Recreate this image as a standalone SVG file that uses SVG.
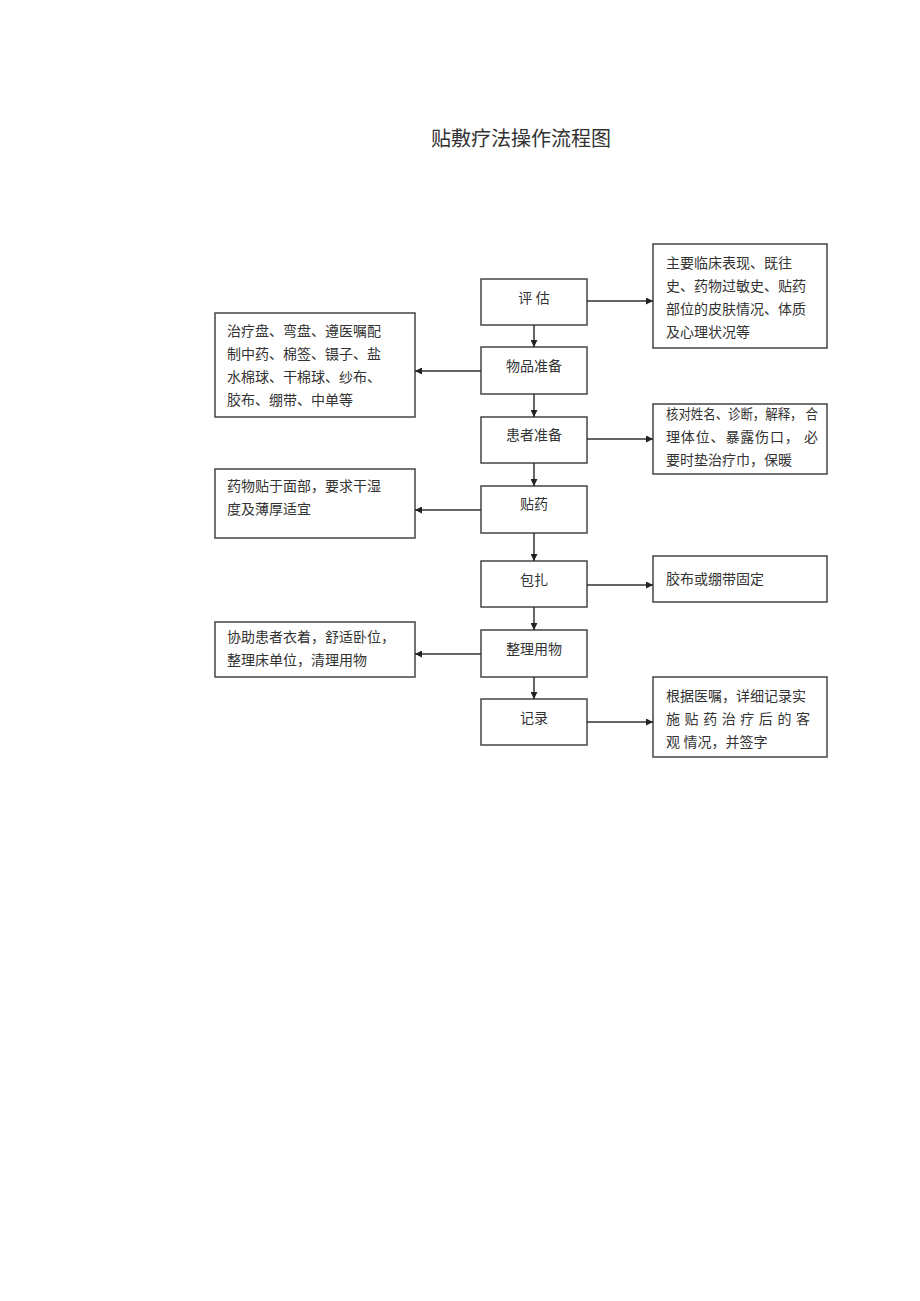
<svg xmlns="http://www.w3.org/2000/svg" width="920" height="1301" viewBox="0 0 920 1301">
<style>
.b{fill:#fff;stroke:#444;stroke-width:1.5}
.t{font-family:"Liberation Serif","Noto Sans CJK SC",serif;font-size:14px;fill:#333}
.c{text-anchor:middle}
.l{stroke:#333;stroke-width:1.5;fill:none;marker-end:url(#a)}
</style>
<defs><marker id="a" viewBox="0 0 10 10" refX="10" refY="5" markerWidth="7" markerHeight="7" orient="auto" markerUnits="userSpaceOnUse"><path d="M0,0L10,5L0,10z" fill="#222"/></marker></defs>
<rect width="920" height="1301" fill="#fff"/>
<text x="521" y="146" class="t c" style="font-size:20px">贴敷疗法操作流程图</text>
<g id="n1"><rect class="b" x="481" y="279" width="106" height="46"/><text class="t c" x="534" y="303">评 估</text></g>
<g id="n2"><rect class="b" x="481" y="347" width="106" height="47"/><text class="t c" x="534" y="371">物品准备</text></g>
<g id="n3"><rect class="b" x="481" y="417" width="106" height="46"/><text class="t c" x="534" y="440">患者准备</text></g>
<g id="n4"><rect class="b" x="481" y="486" width="106" height="47"/><text class="t c" x="534" y="509">贴药</text></g>
<g id="n5"><rect class="b" x="481" y="561" width="106" height="46"/><text class="t c" x="534" y="585">包扎</text></g>
<g id="n6"><rect class="b" x="481" y="630" width="106" height="47"/><text class="t c" x="534" y="654">整理用物</text></g>
<g id="n7"><rect class="b" x="481" y="699" width="106" height="46"/><text class="t c" x="534" y="723">记录</text></g>
<g id="r1"><rect class="b" x="653" y="244" width="174" height="104"/><text class="t" x="666" y="268">主要临床表现、既往</text><text class="t" x="666" y="291">史、药物过敏史、贴药</text><text class="t" x="666" y="314">部位的皮肤情况、体质</text><text class="t" x="666" y="337">及心理状况等</text></g>
<g id="r2"><rect class="b" x="653" y="404" width="174" height="70"/><text class="t" x="666" y="419" textLength="152" lengthAdjust="spacingAndGlyphs">核对姓名、诊断，解释， 合</text><text class="t" x="666" y="442" textLength="152">理体位、暴露伤口， 必</text><text class="t" x="666" y="465">要时垫治疗巾，保暖</text></g>
<g id="r3"><rect class="b" x="653" y="556" width="174" height="46"/><text class="t" x="666" y="584">胶布或绷带固定</text></g>
<g id="r4"><rect class="b" x="653" y="677" width="174" height="80"/><text class="t" x="666" y="701">根据医嘱，详细记录实</text><text class="t" x="666" y="724" textLength="144">施贴药治疗后的客</text><text class="t" x="666" y="747">观 情况，并签字</text></g>
<g id="l1"><rect class="b" x="215" y="313" width="200" height="104"/><text class="t" x="227" y="336">治疗盘、弯盘、遵医嘱配</text><text class="t" x="227" y="359">制中药、棉签、镊子、盐</text><text class="t" x="227" y="382">水棉球、干棉球、纱布、</text><text class="t" x="227" y="405">胶布、绷带、中单等</text></g>
<g id="l2"><rect class="b" x="215" y="469" width="200" height="69"/><text class="t" x="227" y="491">药物贴于面部，要求干湿</text><text class="t" x="227" y="514">度及薄厚适宜</text></g>
<g id="l3"><rect class="b" x="215" y="622" width="200" height="55"/><text class="t" x="227" y="642">协助患者衣着，舒适卧位，</text><text class="t" x="227" y="665">整理床单位，清理用物</text></g>
<g id="edges">
<path class="l" d="M534 325V347"/><path class="l" d="M534 394V417"/><path class="l" d="M534 463V486"/><path class="l" d="M534 533V561"/><path class="l" d="M534 607V630"/><path class="l" d="M534 677V699"/>
<path class="l" d="M587 301H653"/><path class="l" d="M481 371H415"/><path class="l" d="M587 439H653"/><path class="l" d="M481 510H415"/><path class="l" d="M587 585H653"/><path class="l" d="M481 654H415"/><path class="l" d="M587 722H653"/>
</g>
</svg>
